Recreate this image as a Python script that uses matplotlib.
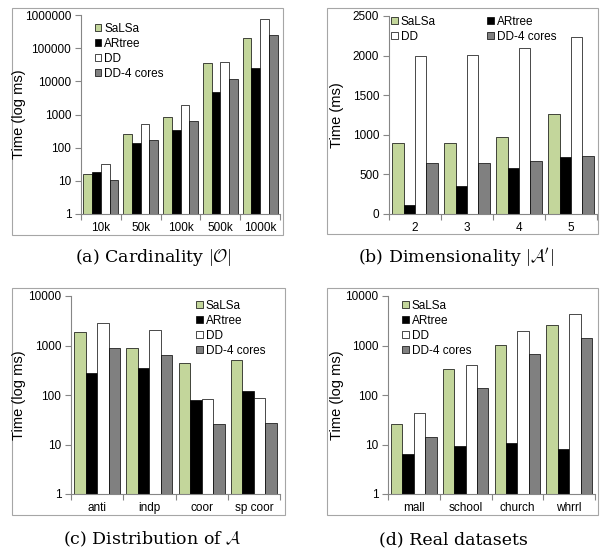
import numpy as np
import matplotlib
matplotlib.use("Agg")
import matplotlib.pyplot as plt
from matplotlib.patches import Rectangle
from matplotlib.ticker import FixedLocator, FuncFormatter, NullLocator

plt.rcParams['font.family'] = ['Liberation Sans', 'DejaVu Sans']
plt.rcParams['mathtext.fontset'] = 'cm'

# %% data
series = ["SaLSa", "ARtree", "DD", "DD-4 cores"]

card_labels = ["10k", "50k", "100k", "500k", "1000k"]
card_salsa = [16, 267, 870, 36600, 207000]
card_artree = [19, 137, 337, 4700, 25300]
card_dd = [33, 510, 2000, 37500, 755000]
card_dd4 = [10.5, 165, 630, 12100, 249000]

dim_labels = ["2", "3", "4", "5"]
dim_salsa = [900, 891, 971, 1264]
dim_artree = [113, 351, 577, 715]
dim_dd = [2000, 2008, 2092, 2234]
dim_dd4 = [649, 649, 674, 728]

dist_labels = ["anti", "indp", "coor", "sp coor"]
dist_salsa = [1914, 896, 440, 505]
dist_artree = [280, 354, 80, 122]
dist_dd = [2818, 2036, 84, 86.5]
dist_dd4 = [883, 637, 25.8, 26.7]

real_labels = ["mall", "school", "church", "whrrl"]
real_salsa = [25.7, 329, 1047, 2566]
real_artree = [6.5, 9.5, 10.8, 8.2]
real_dd = [42.7, 402, 2004, 4345]
real_dd4 = [14, 136, 659, 1449]

colors = ["#c3d69b", "#000000", "#ffffff", "#808080"]

W, H = 605, 556
fig = plt.figure(figsize=(W / 100, H / 100), dpi=100)


def box(x0, y0, x1, y1):
    # pixel box (top-left origin) -> figure fraction rect
    return [x0 / W, 1 - y1 / H, (x1 - x0) / W, (y1 - y0) / H]


def frame(x0, y0, x1, y1):
    fig.patches.append(Rectangle((x0 / W, 1 - y1 / H), (x1 - x0) / W, (y1 - y0) / H,
                                 transform=fig.transFigure, fill=False,
                                 edgecolor="#a6a6a6", lw=0.8))


def panel(rect, labels, data, log, ymax, ylabel, ylab_x, legend_kw, order=(0, 1, 2, 3)):
    ax = fig.add_axes(box(*rect))
    n = len(labels)
    x = np.arange(n)
    w = 0.22
    bars = []
    for i, vals in enumerate(data):
        b = ax.bar(x + (i - 1.5) * w, vals, w, color=colors[i],
                   edgecolor="black", lw=0.5, label=series[i])
        bars.append(b)
    ax.set_xlim(-0.5, n - 0.5)
    if log:
        ax.set_yscale("log")
        ax.set_ylim(1, ymax)
        ticks = [10 ** k for k in range(int(np.log10(ymax)) + 1)]
        ax.yaxis.set_major_locator(FixedLocator(ticks))
        ax.yaxis.set_major_formatter(FuncFormatter(lambda v, p: "%d" % round(v)))
        ax.yaxis.set_minor_locator(NullLocator())
    else:
        ax.set_ylim(0, ymax)
        ax.set_yticks(np.arange(0, ymax + 1, 500))
    ax.set_xticks(x)
    ax.set_xticklabels(labels)
    ax.set_xticks(np.arange(n + 1) - 0.5, minor=True)
    ax.tick_params(axis="x", which="major", length=0, labelsize=8.5, pad=6)
    ax.tick_params(axis="x", which="minor", length=4, color="#868686", width=0.8)
    ax.tick_params(axis="y", length=4, color="#868686", width=0.8, labelsize=8.5, pad=3)
    for s in ["top", "right"]:
        ax.spines[s].set_visible(False)
    for s in ["left", "bottom"]:
        ax.spines[s].set_color("#868686")
        ax.spines[s].set_linewidth(0.8)
    yc = (rect[1] + rect[3]) / 2
    fig.text(ylab_x / W, 1 - yc / H, ylabel, rotation=90, ha="center",
             va="center", fontsize=10.5)
    ax.legend([bars[k] for k in order], [series[k] for k in order],
              frameon=False, fontsize=8.5, handlelength=0.55, handleheight=0.55,
              handletextpad=0.25, labelspacing=0.25, borderpad=0,
              borderaxespad=0, columnspacing=4.4, **legend_kw)
    return ax


# (a) cardinality
frame(12, 8, 283, 235)
panel((81, 15, 280, 214), card_labels,
      [card_salsa, card_artree, card_dd, card_dd4], True, 1e6,
      "Time (log ms)", 19,
      dict(loc="upper left", bbox_to_anchor=(0.07, 0.96)))
fig.text(153 / W, 1 - 258 / H, r"(a) Cardinality $|\mathcal{O}|$",
         family="DejaVu Serif", fontsize=12.5, ha="center", va="center")

# (b) dimensionality
frame(327, 8, 598, 234)
panel((389, 16, 597, 214), dim_labels,
      [dim_salsa, dim_artree, dim_dd, dim_dd4], False, 2500,
      "Time (ms)", 337,
      dict(loc="upper left", bbox_to_anchor=(0.01, 1.0), ncol=2),
      order=(0, 2, 1, 3))
fig.text(456 / W, 1 - 258 / H, r"(b) Dimensionality $|\mathcal{A}'|$",
         family="DejaVu Serif", fontsize=12.5, ha="center", va="center")

# (c) distribution
frame(12, 288, 285, 515)
panel((71, 296, 280, 494), dist_labels,
      [dist_salsa, dist_artree, dist_dd, dist_dd4], True, 1e4,
      "Time (log ms)", 19,
      dict(loc="upper left", bbox_to_anchor=(0.6, 0.98)))
fig.text(152 / W, 1 - 539 / H, r"(c) Distribution of $\mathcal{A}$",
         family="DejaVu Serif", fontsize=12.5, ha="center", va="center")

# (d) real datasets
frame(327, 288, 598, 515)
panel((388, 296, 595, 494), real_labels,
      [real_salsa, real_artree, real_dd, real_dd4], True, 1e4,
      "Time (log ms)", 337,
      dict(loc="upper left", bbox_to_anchor=(0.07, 0.98)))
fig.text(453 / W, 1 - 540 / H, "(d) Real datasets",
         family="DejaVu Serif", fontsize=12.5, ha="center", va="center")

fig.savefig("out.png", dpi=100)
